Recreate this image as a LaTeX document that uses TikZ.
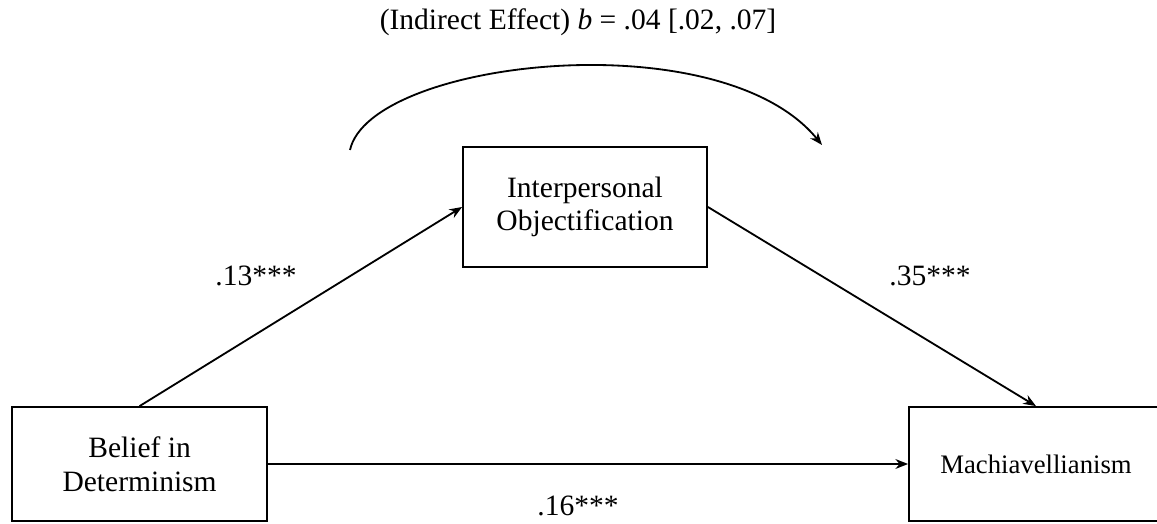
\documentclass[tikz,border=0pt]{standalone}
\usepackage{fontspec}
\setmainfont{Liberation Serif}
\usetikzlibrary{arrows.meta,positioning}
\tikzset{
      varbox/.style={
        draw=black,
        line width=1.3pt,
        fill=white,
        align=center,
        inner sep=6pt,
        font=\fontsize{21}{24}\selectfont
      },
      pathlabel/.style={
        font=\fontsize{21}{24}\selectfont,
        inner sep=0pt
      },
      patharrow/.style={
        -{Stealth[length=9pt,width=7pt]},
        line width=1.3pt
      }
    }

\begin{document}
\begin{tikzpicture}[x=1cm,y=1cm]
    \useasboundingbox (0,0) rectangle (28.925,13.075);
    \node[varbox, minimum width=6.375cm, minimum height=2.85cm] (belief) at (3.49,1.475) {Belief in\\Determinism};
    \node[varbox, minimum width=6.1cm, minimum height=3.0cm] (objectif) at (14.625,7.9) {Interpersonal\\Objectification};
    \node[varbox, minimum width=6.35cm, minimum height=2.85cm, font=\fontsize{19}{22}\selectfont] (mach) at (25.9,1.475) {Machiavellianism};
    \draw[patharrow] (belief.north) -- (objectif.west);
    \draw[patharrow] (objectif.east) -- (mach.north);
    \draw[patharrow] (belief.east) -- (mach.west);
    \node[pathlabel] (a) at (6.4,6.175) {.13***};
    \node[pathlabel] (b) at (23.25,6.175) {.35***};
    \node[pathlabel] (c) at (14.45,0.425) {.16***};
    % indirect effect
    \coordinate (ieStart) at (8.75,9.325);
    \coordinate (ieEnd) at (20.55,9.45);
    \draw[patharrow] (ieStart) .. controls (9.25,11.575) and (18.0,12.575) .. (ieEnd);
    \node[pathlabel] (ie) at (14.45,12.525) {(Indirect Effect) \textit{b} = .04 [.02, .07]};
    \end{tikzpicture}
\end{document}
